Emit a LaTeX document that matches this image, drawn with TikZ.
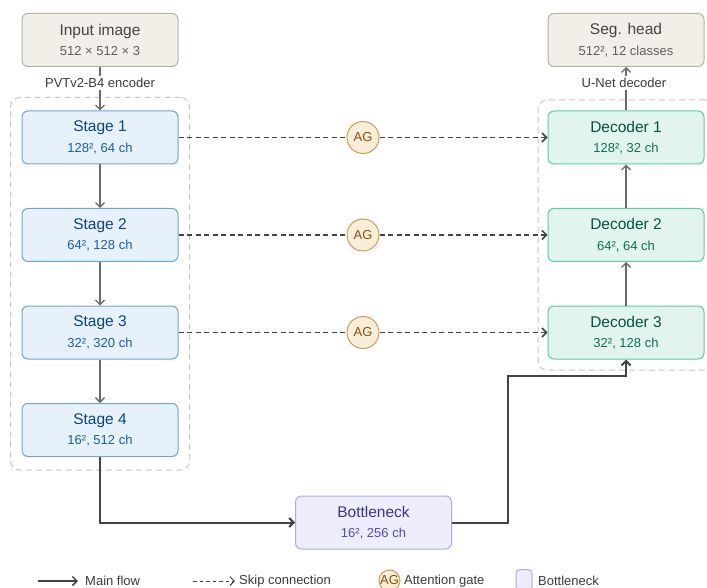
\documentclass[tikz,border=0pt]{standalone}
\usepackage{fontspec}
\setmainfont{Liberation Sans}
\usetikzlibrary{positioning, fit, arrows.meta}

\definecolor{greyfill}{HTML}{F1EFE8}
\definecolor{greyline}{HTML}{B4B2A9}
\definecolor{greytitle}{HTML}{444441}
\definecolor{greysub}{HTML}{5F5E5A}
\definecolor{bluefill}{HTML}{E6F1FB}
\definecolor{blueline}{HTML}{6FA6DA}
\definecolor{bluetitle}{HTML}{0C447C}
\definecolor{bluesub}{HTML}{185FA5}
\definecolor{tealfill}{HTML}{E1F5EE}
\definecolor{tealline}{HTML}{5DCAA5}
\definecolor{tealtitle}{HTML}{085041}
\definecolor{tealsub}{HTML}{0F6E56}
\definecolor{amberfill}{HTML}{FAEEDA}
\definecolor{amberline}{HTML}{D09A55}
\definecolor{ambertext}{HTML}{854F0B}
\definecolor{purplefill}{HTML}{EEEDFE}
\definecolor{purpleline}{HTML}{AFA9EC}
\definecolor{purpletitle}{HTML}{3C3489}
\definecolor{purplesub}{HTML}{534AB7}
\definecolor{groupline}{HTML}{C4C4C0}
\definecolor{flowgrey}{HTML}{6B6B68}
\definecolor{maindark}{HTML}{444444}
\definecolor{labeltext}{HTML}{3A3A38}

\newcommand{\titlesize}{\fontsize{15.5}{20.5}\selectfont}
\newcommand{\subsize}{\fontsize{13}{20.5}\selectfont}

\begin{document}
\begin{tikzpicture}[
        x=1pt, y=-1pt,
        node distance = 43.5pt and 168pt,
        >={Straight Barb[length=4.5pt,width=9pt]},
        box/.style = {rectangle, rounded corners=6pt, draw, line width=1pt, minimum width=156pt, minimum height=53pt, align=center, font=\subsize},
        io/.style = {box, fill=greyfill, draw=greyline, text=greysub},
        stage/.style = {box, fill=bluefill, draw=blueline, text=bluesub},
        dec/.style = {box, fill=tealfill, draw=tealline, text=tealsub},
        neck/.style = {box, fill=purplefill, draw=purpleline, text=purplesub},
        gate/.style = {circle, draw=amberline, fill=amberfill, text=ambertext, line width=1pt, minimum size=32pt, inner sep=0pt, font=\subsize},
        group/.style = {rectangle, rounded corners=9pt, draw=groupline, dash pattern=on 6pt off 4pt, line width=1pt},
        flow/.style = {->, draw=flowgrey, line width=1.4pt},
        main/.style = {->, draw=maindark, line width=2pt},
        skip/.style = {->, draw=maindark, line width=1.5pt, dash pattern=on 5pt off 3.5pt},
        tag/.style = {fill=white, inner sep=2pt, text=labeltext, font=\subsize},
        legend/.style = {anchor=west, inner sep=0pt, text=labeltext, font=\subsize}
    ]
        \useasboundingbox (0,0) rectangle (707,588);

        % Encoder stages
        \node[stage] (stage1) at (100,137.5) {{\titlesize\color{bluetitle}Stage 1}\\128², 64 ch};
        \node[stage, below=of stage1] (stage2) {{\titlesize\color{bluetitle}Stage 2}\\64², 128 ch};
        \node[stage, below=of stage2] (stage3) {{\titlesize\color{bluetitle}Stage 3}\\32², 320 ch};
        \node[stage, below=of stage3] (stage4) {{\titlesize\color{bluetitle}Stage 4}\\16², 512 ch};
        \node[io, above=of stage1] (input) {{\titlesize\color{greytitle}Input image}\\512 × 512 × 3};

        % Attention gates
        \node[gate, right=of stage1] (gate1) {AG};
        \node[gate, right=of stage2] (gate2) {AG};
        \node[gate, right=of stage3] (gate3) {AG};

        % Decoder stages
        \node[dec, right=of gate1] (dec1) {{\titlesize\color{tealtitle}Decoder 1}\\128², 32 ch};
        \node[dec, right=of gate2] (dec2) {{\titlesize\color{tealtitle}Decoder 2}\\64², 64 ch};
        \node[dec, right=of gate3] (dec3) {{\titlesize\color{tealtitle}Decoder 3}\\32², 128 ch};
        \node[io, above=of dec1] (head) {{\titlesize\color{greytitle}Seg. head}\\512², 12 classes};

        % Bottleneck
        \node[neck] (neck) at (373.5,522.5) {{\titlesize\color{purpletitle}Bottleneck}\\16², 256 ch};

        % Groups
        \node[group, fit=(stage1)(stage4), inner xsep=11pt, inner ysep=13pt] (encoder) {};
        \node[group, fit=(dec1)(dec3), inner xsep=9.5pt, inner ysep=10.5pt] (decoder) {};

        % Arrows
        \draw[flow] (input) -- (stage1);
        \node[tag] (enclabel) at (100,83) {PVTv2-B4 encoder};
        \draw[flow] (stage1) -- (stage2);
        \draw[flow] (stage2) -- (stage3);
        \draw[flow] (stage3) -- (stage4);
        \draw[flow] (dec3) -- (dec2);
        \draw[flow] (dec2) -- (dec1);
        \draw[flow] (dec1) -- (head);
        \node[tag] (declabel) at (624,83) {U-Net decoder};

        % Skip connections
        \draw[skip, -] (stage1) -- (gate1);
        \draw[skip] (gate1) -- (dec1);
        \draw[skip, -] (stage2) -- (gate2);
        \draw[skip] (gate2) -- (dec2);
        \draw[skip, -] (stage3) -- (gate3);
        \draw[skip] (gate3) -- (dec3);

        % Main flow through bottleneck
        \coordinate (bend) at (508,376);
        \draw[main] (stage4) |- (neck);
        \draw[main] (neck) -| (bend) -| (dec3);

        % Legend
        \coordinate (key1) at (38,581);
        \coordinate (key1end) at (78,581);
        \draw[main, line width=1.5pt] (key1) -- (key1end);
        \node[legend] (keytext1) at (85,581) {Main flow};
        \coordinate (key2) at (193,581);
        \coordinate (key2end) at (235,581);
        \draw[skip, line width=1pt, dash pattern=on 3.5pt off 3pt] (key2) -- (key2end);
        \node[legend] (keytext2) at (239,581) {Skip connection};
        \node[gate, minimum size=21pt] (keygate) at (389.5,580.5) {AG};
        \node[legend] (keytext3) at (404,581) {Attention gate};
        \node[neck, minimum width=16pt, minimum height=21pt, inner sep=0pt, rounded corners=4pt] (keyneck) at (524,580) {};
        \node[legend] (keytext4) at (538,581) {Bottleneck};
    \end{tikzpicture}
\end{document}
